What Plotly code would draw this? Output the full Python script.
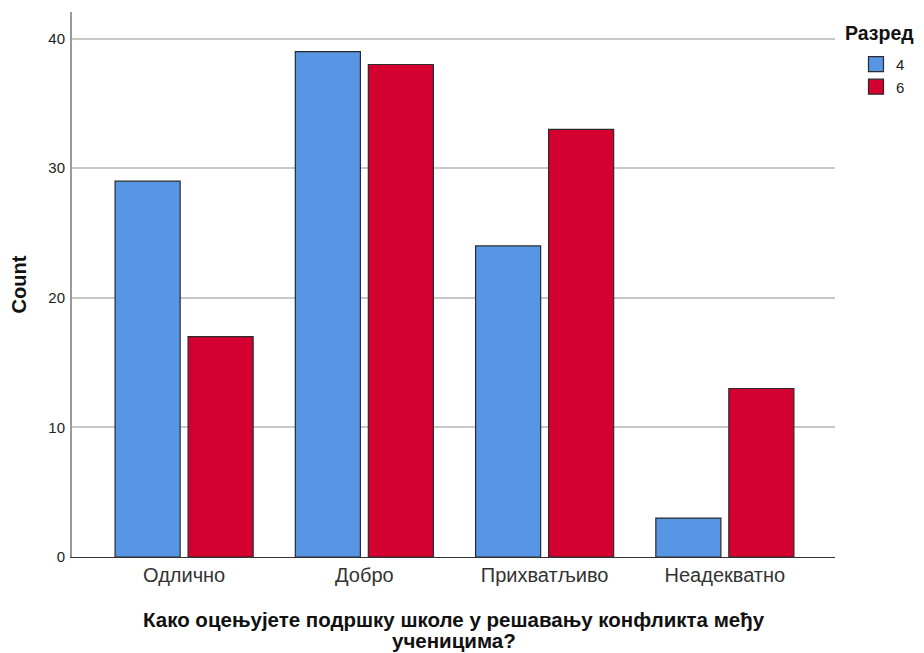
import plotly.graph_objects as go

categories = ["Одлично", "Добро", "Прихватљиво", "Неадекватно"]
grade4 = [29, 39, 24, 3]
grade6 = [17, 38, 33, 13]
series_names = ["4", "6"]
y_ticks = [0, 10, 20, 30, 40]
legend_title = "Разред"
x_title_lines = ["Како оцењујете подршку школе у решавању конфликта међу", "ученицима?"]
colors = ["#5796E5", "#D30030"]

x_idx = list(range(len(categories)))

fig = go.Figure()
for vals, name, col, off in [(grade4, series_names[0], colors[0], -0.383),
                             (grade6, series_names[1], colors[1], 0.022)]:
    fig.add_trace(go.Bar(
        x=x_idx, y=vals, name=name, showlegend=False, legendgroup=name,
        marker=dict(color=col, line=dict(color="#2b2b2b", width=1.2)),
        width=0.361, offset=off,
    ))
    # legend proxy (square swatch)
    fig.add_trace(go.Scatter(
        x=[None], y=[None], mode="markers", name=name, legendgroup=name,
        marker=dict(symbol="square", size=15, color=col,
                    line=dict(color="#2b2b2b", width=1.2)),
    ))

fig.update_layout(
    width=916, height=645,
    margin=dict(l=64, r=89, t=4, b=95.5),
    paper_bgcolor="white", plot_bgcolor="white",
    barmode="overlay",
    font=dict(family="Liberation Sans, Arial, sans-serif", color="#222"),
    legend=dict(
        x=1.0275, y=0.934, xanchor="left", yanchor="top",
        font=dict(size=15, color="#222"),
        itemwidth=30, tracegroupgap=0,
    ),
    showlegend=True,
)
fig.add_annotation(
    text="<b>" + legend_title + "</b>", xref="paper", yref="paper",
    x=1.0105, y=1, xanchor="left", yanchor="middle", yshift=-21,
    showarrow=False, font=dict(size=19.5, color="#111"),
)
for i, line in enumerate(x_title_lines):
    fig.add_annotation(
        text="<b>" + line + "</b>", xref="paper", yref="paper",
        x=0.5, y=0, xanchor="center", yanchor="middle", yshift=-62.5 - 21 * i,
        showarrow=False, font=dict(size=20.5, color="#111"),
    )
fig.update_xaxes(
    tickmode="array", tickvals=x_idx, ticktext=categories,
    range=[-0.622, 3.611],
    showline=True, linecolor="#333", linewidth=1.2,
    ticks="", tickfont=dict(size=20, color="#333"),
    showgrid=False, zeroline=False,
)
fig.update_yaxes(
    range=[0, 42.05],
    tickmode="array", tickvals=y_ticks,
    showline=True, linecolor="#999", linewidth=2,
    ticks="outside", ticklen=2, tickcolor="rgba(0,0,0,0)",
    tickfont=dict(size=15, color="#222"),
    showgrid=True, gridcolor="#c8c8c8", gridwidth=1.5,
    zeroline=False,
    title=dict(text="<b>Count</b>", font=dict(size=20, color="#111"), standoff=18),
)

fig.write_html("out.html")
